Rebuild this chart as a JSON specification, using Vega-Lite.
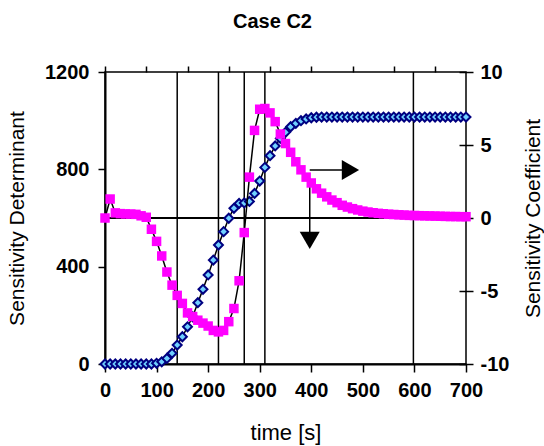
{
  "$schema": "https://vega.github.io/schema/vega-lite/v6.json",
  "width": 361,
  "height": 292,
  "autosize": {"type": "none"},
  "padding": {"left": 105, "top": 72, "right": 78, "bottom": 82},
  "config": {
    "font": "Liberation Sans",
    "view": {"stroke": "black", "strokeWidth": 1.5},
    "axis": {
      "grid": false,
      "domainColor": "black",
      "domainWidth": 2,
      "tickColor": "black",
      "tickWidth": 1.5,
      "labelColor": "black",
      "labelFont": "Liberation Sans",
      "labelFontWeight": "bold",
      "labelFontSize": 20,
      "labelFlush": false,
      "labelOverlap": false,
      "titleColor": "black",
      "titleFont": "Liberation Sans",
      "titleFontWeight": "normal",
      "titleFontSize": 21
    }
  },
  "title": {"text": "Case C2", "fontSize": 20, "fontWeight": "bold", "color": "black", "dx": -13, "offset": 30},
  "datasets": {
    "series": [
      {"t": 0, "det": 0, "coef": 0},
      {"t": 10, "det": 0, "coef": 1.3},
      {"t": 20, "det": 0, "coef": 0.35},
      {"t": 30, "det": 0, "coef": 0.3},
      {"t": 40, "det": 0, "coef": 0.28},
      {"t": 50, "det": 0, "coef": 0.27},
      {"t": 60, "det": 0, "coef": 0.25},
      {"t": 70, "det": 0, "coef": 0.15},
      {"t": 80, "det": 0, "coef": 0.05},
      {"t": 90, "det": 0, "coef": -0.77},
      {"t": 100, "det": 3, "coef": -1.6},
      {"t": 110, "det": 9, "coef": -2.6},
      {"t": 120, "det": 23, "coef": -3.7},
      {"t": 130, "det": 44, "coef": -4.6},
      {"t": 140, "det": 78, "coef": -5.3},
      {"t": 150, "det": 112, "coef": -5.85},
      {"t": 160, "det": 153, "coef": -6.5},
      {"t": 170, "det": 194, "coef": -6.75},
      {"t": 180, "det": 252, "coef": -7.0},
      {"t": 190, "det": 307, "coef": -7.2},
      {"t": 200, "det": 366, "coef": -7.4},
      {"t": 210, "det": 427, "coef": -7.7},
      {"t": 220, "det": 489, "coef": -7.8},
      {"t": 230, "det": 544, "coef": -7.7},
      {"t": 240, "det": 599, "coef": -7.1},
      {"t": 250, "det": 640, "coef": -6.2},
      {"t": 260, "det": 660, "coef": -4.3},
      {"t": 270, "det": 662, "coef": -1.0},
      {"t": 280, "det": 668, "coef": 2.8},
      {"t": 290, "det": 701, "coef": 6.0},
      {"t": 300, "det": 752, "coef": 7.45},
      {"t": 310, "det": 808, "coef": 7.5},
      {"t": 320, "det": 856, "coef": 7.2},
      {"t": 330, "det": 896, "coef": 6.6},
      {"t": 340, "det": 927, "coef": 5.75},
      {"t": 350, "det": 952, "coef": 5.1},
      {"t": 360, "det": 975, "coef": 4.5},
      {"t": 370, "det": 989, "coef": 3.85},
      {"t": 380, "det": 1000, "coef": 3.3},
      {"t": 390, "det": 1007, "coef": 2.8},
      {"t": 400, "det": 1012, "coef": 2.4},
      {"t": 410, "det": 1014, "coef": 2.0},
      {"t": 420, "det": 1015, "coef": 1.7},
      {"t": 430, "det": 1015, "coef": 1.45},
      {"t": 440, "det": 1015, "coef": 1.23},
      {"t": 450, "det": 1015, "coef": 1.05},
      {"t": 460, "det": 1015, "coef": 0.87},
      {"t": 470, "det": 1015, "coef": 0.75},
      {"t": 480, "det": 1015, "coef": 0.64},
      {"t": 490, "det": 1015, "coef": 0.55},
      {"t": 500, "det": 1015, "coef": 0.47},
      {"t": 510, "det": 1015, "coef": 0.41},
      {"t": 520, "det": 1015, "coef": 0.36},
      {"t": 530, "det": 1015, "coef": 0.32},
      {"t": 540, "det": 1015, "coef": 0.29},
      {"t": 550, "det": 1015, "coef": 0.26},
      {"t": 560, "det": 1015, "coef": 0.24},
      {"t": 570, "det": 1015, "coef": 0.22},
      {"t": 580, "det": 1015, "coef": 0.2},
      {"t": 590, "det": 1015, "coef": 0.18},
      {"t": 600, "det": 1015, "coef": 0.17},
      {"t": 610, "det": 1015, "coef": 0.16},
      {"t": 620, "det": 1015, "coef": 0.15},
      {"t": 630, "det": 1015, "coef": 0.14},
      {"t": 640, "det": 1015, "coef": 0.13},
      {"t": 650, "det": 1015, "coef": 0.12},
      {"t": 660, "det": 1015, "coef": 0.11},
      {"t": 670, "det": 1015, "coef": 0.1},
      {"t": 680, "det": 1015, "coef": 0.1},
      {"t": 690, "det": 1015, "coef": 0.09},
      {"t": 700, "det": 1015, "coef": 0.09}
    ],
    "vlines": [{"t": 140}, {"t": 220}, {"t": 270}, {"t": 310}, {"t": 598}],
    "shafts": [
      {"t": 397, "t2": 462, "det": 797, "det2": 797},
      {"t": 397, "t2": 397, "det": 732, "det2": 530}
    ],
    "heads": [
      {"t": 476, "det": 797, "dir": "right"},
      {"t": 397, "det": 508, "dir": "down"}
    ]
  },
  "layer": [
    {
      "layer": [
        {
          "data": {"name": "vlines"},
          "mark": {"type": "rule", "color": "black", "strokeWidth": 1.5},
          "encoding": {
            "x": {
              "field": "t",
              "type": "quantitative",
              "scale": {"domain": [0, 700], "nice": false, "zero": false},
              "axis": {
                "values": [0, 100, 200, 300, 400, 500, 600, 700],
                "format": "d",
                "tickSize": 8,
                "labelPadding": 8,
                "title": "time [s]",
                "titleFontSize": 22,
                "titleBaseline": "alphabetic",
                "titleY": 75
              }
            }
          }
        },
        {
          "data": {"name": "series"},
          "mark": {"type": "rule", "color": "black", "strokeWidth": 1.5},
          "encoding": {"y": {"datum": 600, "type": "quantitative"}}
        },
        {
          "data": {"name": "series"},
          "mark": {"type": "line", "color": "black", "strokeWidth": 1.5},
          "encoding": {
            "x": {"field": "t", "type": "quantitative"},
            "y": {
              "field": "det",
              "type": "quantitative",
              "scale": {"domain": [0, 1200], "nice": false},
              "axis": {
                "values": [0, 400, 800, 1200],
                "format": "d",
                "tickSize": 7,
                "labelPadding": 9,
                "title": "Sensitivity Determinant",
                "titleAngle": -90,
                "titleAlign": "center",
                "titleBaseline": "alphabetic",
                "titleX": -82,
                "titleY": 146
              }
            }
          }
        },
        {
          "data": {"name": "series"},
          "mark": {"type": "point", "shape": "diamond", "size": 80, "filled": true, "fill": "#70d0ff", "stroke": "#000080", "strokeWidth": 2, "opacity": 1},
          "encoding": {
            "x": {"field": "t", "type": "quantitative"},
            "y": {"field": "det", "type": "quantitative"}
          }
        },
        {
          "data": {"name": "shafts"},
          "mark": {"type": "rule", "color": "black", "strokeWidth": 1.5},
          "encoding": {
            "x": {"field": "t", "type": "quantitative"},
            "x2": {"field": "t2"},
            "y": {"field": "det", "type": "quantitative"},
            "y2": {"field": "det2"}
          }
        },
        {
          "data": {"name": "heads"},
          "mark": {"type": "point", "filled": true, "color": "black", "size": 400, "opacity": 1},
          "encoding": {
            "x": {"field": "t", "type": "quantitative"},
            "y": {"field": "det", "type": "quantitative"},
            "shape": {"field": "dir", "type": "nominal", "scale": {"domain": ["right", "down"], "range": ["triangle-right", "triangle-down"]}, "legend": null}
          }
        }
      ]
    },
    {
      "data": {"name": "series"},
      "layer": [
        {
          "mark": {"type": "line", "color": "black", "strokeWidth": 1.5},
          "encoding": {
            "x": {
              "field": "t",
              "type": "quantitative",
              "axis": {
                "values": [0, 20, 40, 60, 80, 100, 120, 140, 160, 180, 200, 220, 240, 260, 280, 300, 320, 340, 360, 380, 400, 420, 440, 460, 480, 500, 520, 540, 560, 580, 600, 620, 640, 660, 680, 700],
                "tickSize": 6,
                "labels": false,
                "domain": false,
                "title": null
              }
            },
            "y": {
              "field": "coef",
              "type": "quantitative",
              "scale": {"domain": [-10, 10], "nice": false},
              "axis": {
                "orient": "right",
                "values": [-10, -5, 0, 5, 10],
                "labelExpr": "'' + datum.value",
                "offset": -7,
                "tickSize": 14,
                "domain": false,
                "labelPadding": 7,
                "labelFontWeight": "bold",
                "labelColor": "#000000",
                "title": "Sensitivity Coefficient",
                "titleAngle": -90,
                "titleAlign": "center",
                "titleBaseline": "alphabetic",
                "titleX": 80,
                "titleY": 146
              }
            }
          }
        },
        {
          "mark": {"type": "point", "shape": "square", "size": 90, "filled": true, "color": "#ff00ff", "opacity": 1},
          "encoding": {
            "x": {"field": "t", "type": "quantitative"},
            "y": {"field": "coef", "type": "quantitative"}
          }
        }
      ]
    }
  ],
  "resolve": {"scale": {"y": "independent"}, "axis": {"x": "independent"}}
}
